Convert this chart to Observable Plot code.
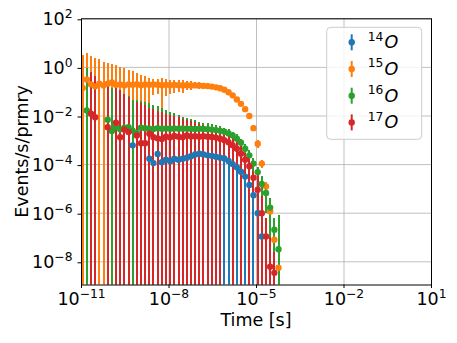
<!DOCTYPE html>
<html><head><meta charset="utf-8">
<script src="https://cdn.jsdelivr.net/npm/d3@7"></script>
<script src="https://cdn.jsdelivr.net/npm/@observablehq/plot@0.6"></script>
<style>body{margin:0;background:#fff}#chart svg{display:block}</style>
</head><body><div id="chart"></div>
<script>
// log-spaced time bins (7 per decade)
const time = [
  1.10e-11,1.52e-11,2.12e-11,2.94e-11,4.09e-11,5.68e-11,7.89e-11,
  1.10e-10,1.52e-10,2.12e-10,2.94e-10,4.09e-10,5.68e-10,7.89e-10,
  1.10e-9,1.52e-9,2.12e-9,2.94e-9,4.09e-9,5.68e-9,7.89e-9,
  1.10e-8,1.52e-8,2.12e-8,2.94e-8,4.09e-8,5.68e-8,7.89e-8,
  1.10e-7,1.52e-7,2.12e-7,2.94e-7,4.09e-7,5.68e-7,7.89e-7,
  1.10e-6,1.52e-6,2.12e-6,2.94e-6,4.09e-6,5.68e-6,7.89e-6,
  1.10e-5,1.52e-5,2.12e-5,2.94e-5,4.09e-5,5.68e-5
];
// 14O
const o14Value = [
  null,null,null,null,null,null,null,
  null,null,null,null,null,6.2e-4,null,
  null,null,1.74e-4,1.15e-4,2.75e-4,1.26e-4,1.58e-4,
  1.38e-4,1.74e-4,1.58e-4,1.74e-4,1.91e-4,2.19e-4,2.63e-4,
  2.82e-4,2.63e-4,2.40e-4,2.29e-4,2.09e-4,1.91e-4,1.78e-4,
  1.41e-4,1.05e-4,7.8e-5,5.1e-5,3.2e-5,1.45e-5,5.5e-6,
  1.0e-6,1.1e-7,null,null,null,null
];
const o14Err = [
  null,null,null,null,null,null,null,
  null,null,null,null,null,6.5e-4,null,
  null,null,1.8e-4,1.2e-4,2.9e-4,1.3e-4,1.65e-4,
  1.45e-4,1.8e-4,1.65e-4,1.8e-4,2.0e-4,2.3e-4,2.75e-4,
  2.95e-4,2.75e-4,2.5e-4,2.4e-4,2.2e-4,2.0e-4,1.85e-4,
  1.5e-4,1.1e-4,8.2e-5,5.4e-5,3.4e-5,1.5e-5,5.8e-6,
  1.05e-6,1.15e-7,null,null,null,null
];
// 15O
const o15Value = [
  0.141,0.316,0.200,0.166,0.214,0.182,0.214,
  0.240,0.191,0.200,0.182,0.200,0.191,0.204,
  0.186,0.200,0.191,0.200,0.195,0.186,0.191,
  0.186,0.191,0.186,0.182,0.186,0.182,0.182,
  0.178,0.174,0.170,0.162,0.151,0.138,0.120,
  0.0955,0.0708,0.0479,0.0316,0.0191,0.0100,0.00316,
  7.2e-4,1.1e-4,1.26e-5,1.17e-6,8.1e-8,5.75e-9
];
const o15Err = [
  2.95,3.57,2.62,2.12,1.88,1.48,1.20,
  1.08,1.01,0.82,0.71,0.56,0.47,0.36,
  0.29,0.22,0.16,0.13,0.12,0.17,0.125,
  0.11,0.11,0.09,0.10,0.077,0.069,0.052,
  0.051,0.045,0.044,0.035,0.030,0.026,0.022,
  0.017,0.013,0.009,0.0065,0.0042,0.0024,0.0009,
  2.4e-4,4.0e-5,5.0e-6,5.0e-7,4.0e-8,3.5e-9
];
// 16O
const o16Value = [
  null,0.0170,null,null,null,null,0.00708,
  0.00240,0.00355,0.00282,0.00331,0.00347,0.00251,0.00200,
  0.00331,0.00316,0.00302,0.00295,0.00316,0.00302,0.00309,
  0.00302,0.00309,0.00302,0.00309,0.00302,0.00302,0.00295,
  0.00302,0.00295,0.00288,0.00275,0.00263,0.00245,0.00224,
  0.00191,0.00158,0.00117,7.9e-4,4.5e-4,2.4e-4,1.1e-4,
  4.9e-5,1.6e-5,6.8e-6,1.7e-6,2.1e-7,3.3e-8
];
const o16Err = [
  null,0.87,null,null,null,null,0.171,
  0.130,0.108,0.097,0.076,0.060,0.041,0.043,
  0.0365,0.0323,0.0286,0.0253,0.0208,0.0170,0.0139,
  0.0115,0.0095,0.0075,0.0058,0.0049,0.0041,0.0033,
  0.0026,0.0022,0.0019,0.0017,0.0015,0.0011,0.00092,
  0.00078,0.00061,0.00049,0.00033,0.00021,0.00014,6.8e-5,
  3.0e-5,1.6e-5,5.8e-6,2.3e-6,4.2e-7,7.8e-7
];
// 17O
const o17Value = [
  null,null,0.0123,0.00891,null,null,0.00347,
  null,0.00525,0.00135,0.00275,0.00219,null,0.00158,
  7.6e-4,7.6e-4,0.00186,0.00135,0.00120,0.00112,0.00141,
  0.00132,0.00151,0.00141,0.00132,0.00158,0.00145,0.00148,
  0.00141,0.00148,0.00141,0.00138,0.00129,0.00117,0.00100,
  8.3e-4,6.3e-4,4.5e-4,2.8e-4,1.6e-4,8.5e-5,2.9e-5,
  9.3e-6,1.0e-6,1.1e-7,6.3e-9,3.5e-9,null
];
const o17Err = [
  null,null,0.63,0.418,null,null,0.155,
  null,0.140,0.111,0.076,0.058,null,0.035,
  0.031,0.0255,0.018,0.0165,0.0146,0.0127,0.0103,
  0.0092,0.0078,0.0069,0.0061,0.0050,0.0045,0.0037,
  0.0031,0.0025,0.0020,0.0016,0.0013,0.0012,8.5e-4,
  7.0e-4,9.5e-4,3.8e-4,6.1e-4,1.35e-4,1.95e-4,2.4e-5,
  3.1e-5,4.0e-6,5.2e-7,9.4e-8,2.15e-8,null
];
const seriesMass = ["14","15","16","17"];
const seriesColors = ["#1f77b4","#ff7f0e","#2ca02c","#d62728"];
const xTicks = [1e-11,1e-8,1e-5,1e-2,1e1];
const yTicks = [1e-8,1e-6,1e-4,1e-2,1e0,1e2];
const xLabel = "Time [s]";
const yLabel = "Events/s/prmry";

const Y_MIN = Math.pow(10, -8.955);
const allValues = [o14Value,o15Value,o16Value,o17Value];
const allErrs = [o14Err,o15Err,o16Err,o17Err];
const rows = [];
allValues.forEach((vals, s) => vals.forEach((v, i) => {
  if (v == null) return;
  const e = allErrs[s][i];
  rows.push({s, t: time[i], v, lo: v - e > 0 ? v - e : Y_MIN / 10, hi: v + e});
}));
const fmt = d => "10^" + String(Math.round(Math.log10(d))).replace("-", "\u2212");

const marks = [
  Plot.gridX(xTicks, {stroke: "#b0b0b0", strokeOpacity: 1, strokeWidth: 0.8}),
  Plot.gridY(yTicks, {stroke: "#b0b0b0", strokeOpacity: 1, strokeWidth: 0.8})
];
seriesMass.forEach((m, s) => marks.push(Plot.ruleX(rows.filter(d => d.s === s),
  {x: "t", y1: "lo", y2: "hi", stroke: seriesColors[s], strokeWidth: 2, clip: true, shapeRendering: "crispEdges"})));
seriesMass.forEach((m, s) => marks.push(Plot.dot(rows.filter(d => d.s === s),
  {x: "t", y: "v", r: 3.2, fill: seriesColors[s], stroke: "none", clip: true})));
marks.push(
  Plot.frame({stroke: "black", strokeWidth: 1}),
  Plot.axisX(xTicks, {tickSize: 3.5, tickPadding: 4.5, tickFormat: fmt, label: null, stroke: "black"}),
  Plot.axisY(yTicks, {tickSize: 3.5, tickPadding: 5.5, tickFormat: fmt, label: null, dy: 1, stroke: "black"})
);

const svg = Plot.plot({
  width: 457, height: 343,
  marginLeft: 81, marginRight: 26, marginTop: 18.3, marginBottom: 58.5,
  style: {fontFamily: "'DejaVu Sans', sans-serif", fontSize: "17.5px", color: "black", background: "white", overflow: "visible"},
  x: {type: "log", domain: [1e-11, 10]},
  y: {type: "log", domain: [Y_MIN, 100]},
  marks
});
document.getElementById("chart").appendChild(svg);

// mathtext-like superscripts on tick labels
svg.querySelectorAll("text").forEach(t => {
  const m = /^10\^(.+)$/.exec(t.textContent);
  if (!m) return;
  t.textContent = "";
  const a = document.createElementNS("http://www.w3.org/2000/svg", "tspan");
  a.textContent = "10";
  const b = document.createElementNS("http://www.w3.org/2000/svg", "tspan");
  b.textContent = m[1];
  b.setAttribute("dy", "-7");
  b.setAttribute("font-size", "12.3");
  t.appendChild(a); t.appendChild(b);
});

const root = d3.select(svg);
root.append("text").attr("x", 256).attr("y", 325.5).attr("text-anchor", "middle")
  .attr("font-size", 17.5).attr("fill", "black").text(xLabel);
root.append("text").attr("transform", "translate(27.5,151.4) rotate(-90)").attr("text-anchor", "middle")
  .attr("font-size", 17.5).attr("fill", "black").text(yLabel);

// legend
const lg = root.append("g");
lg.append("rect").attr("x", 326.7).attr("y", 27.3).attr("width", 95).attr("height", 112).attr("rx", 4)
  .attr("fill", "white").attr("fill-opacity", 0.8).attr("stroke", "#cccccc").attr("stroke-width", 1);
seriesMass.forEach((m, k) => {
  const cy = 42.3 + k * 26.7;
  lg.append("line").attr("x1", 351.7).attr("x2", 351.7).attr("y1", cy - 8).attr("y2", cy + 8)
    .attr("stroke", seriesColors[k]).attr("stroke-width", 2);
  lg.append("circle").attr("cx", 351.7).attr("cy", cy).attr("r", 3.2).attr("fill", seriesColors[k]);
  const tx = lg.append("text").attr("x", 383).attr("y", cy + 6).attr("font-size", 17.5).attr("fill", "black");
  tx.append("tspan").attr("font-size", 12.3).attr("dy", -7.6).text(m);
  tx.append("tspan").attr("font-style", "italic").attr("dy", 7.6).attr("dx", 1).text("O");
});
</script></body></html>
